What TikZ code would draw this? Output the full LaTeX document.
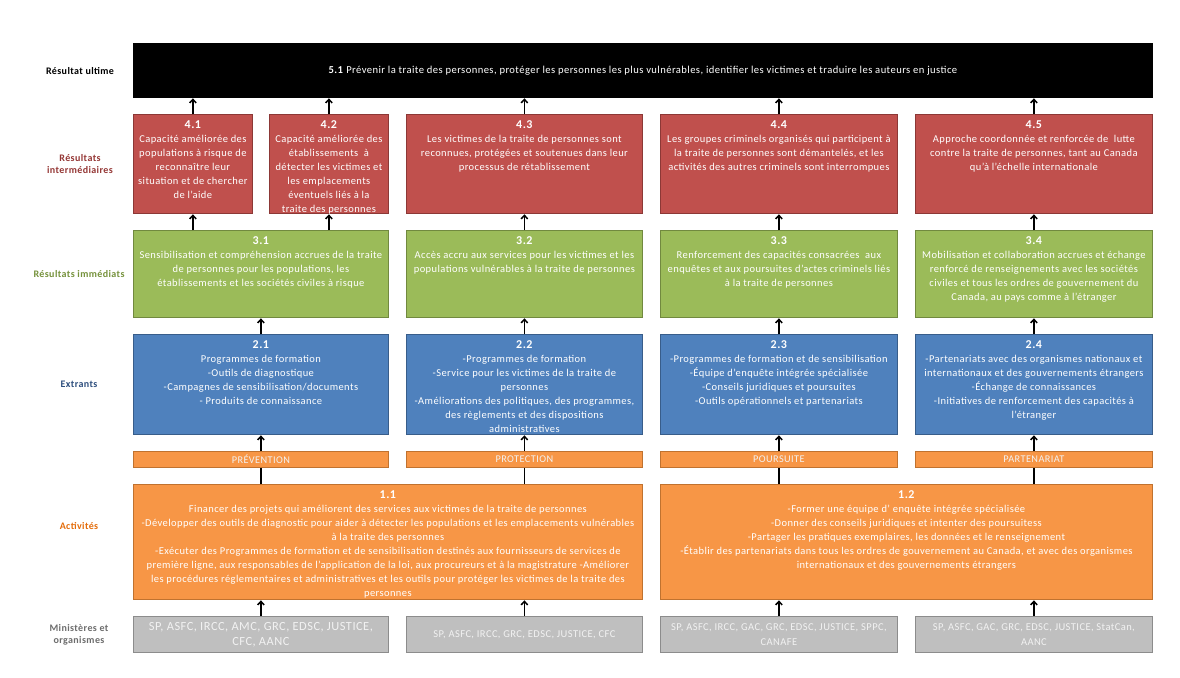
\documentclass[tikz,border=0pt]{standalone}
\usepackage{fontspec}
\setmainfont{Carlito}[LetterSpace=4]
\usetikzlibrary{arrows.meta}
\definecolor{cred}{HTML}{C0504D}
\definecolor{credb}{HTML}{8C3836}
\definecolor{cgreen}{HTML}{9BBB59}
\definecolor{cgreenb}{HTML}{71893F}
\definecolor{cblue}{HTML}{4F81BD}
\definecolor{cblueb}{HTML}{385D8A}
\definecolor{corange}{HTML}{F79646}
\definecolor{coranb}{HTML}{C0722F}
\definecolor{cgray}{HTML}{BFBFBF}
\definecolor{cgrayb}{HTML}{8C8C8C}
\definecolor{lred}{HTML}{953735}
\definecolor{lgreen}{HTML}{76923C}
\definecolor{lblue}{HTML}{2E4F7E}
\definecolor{lorange}{HTML}{E46C0A}
\definecolor{lgray}{HTML}{6D6D6D}
\definecolor{ltext}{HTML}{F2F2F2}
\newcommand\hd[1]{\makebox[\linewidth]{\fontsize{12}{14}\selectfont\bfseries #1}\par}
\newcommand\lne[1]{\makebox[\linewidth]{#1}\par}
\newcommand\bx[7]{\node[#6] (#1) at (#2,#3) {\parbox[t][#5pt][t]{#4pt}{\vspace*{6pt}#7}};}
\tikzset{
  base/.style={inner sep=0pt, anchor=north west, text=white, line width=0.8pt,
    font=\fontsize{10.5}{14}\selectfont},
  redbox/.style={base, fill=cred, draw=credb},
  greenbox/.style={base, fill=cgreen, draw=cgreenb},
  bluebox/.style={base, fill=cblue, draw=cblueb},
  orangebox/.style={base, fill=corange, draw=coranb},
  barbox/.style={base, fill=corange, draw=coranb, text=ltext, minimum height=16pt,
    font=\fontsize{10.3}{12}\selectfont},
  graybox/.style={base, fill=cgray, draw=cgrayb, text=ltext, minimum height=36pt, align=center},
  blackbox/.style={base, fill=black, draw=black},
  lab/.style={font=\fontsize{10}{12.5}\selectfont\bfseries, align=center},
  arr/.style={line width=1.5pt, -{Straight Barb[length=3.5pt,width=6.5pt]}, shorten >=0.5pt},
  lnk/.style={line width=1.5pt},
}
\begin{document}
\begin{tikzpicture}[x=1pt,y=-1pt]
\useasboundingbox[fill=white] (0,0) rectangle (1180,677);

% left labels
\node[lab, text=black] (L5) at (80,71) {Résultat ultime};
\node[lab, text=lred] (L4) at (80,164) {Résultats\\intermédiaires};
\node[lab, text=lgreen] (L3) at (79,274) {Résultats immédiats};
\node[lab, text=lblue] (L2) at (79,384) {Extrants};
\node[lab, text=lorange] (L1) at (79,526) {Activités};
\node[lab, text=lgray] (L0) at (79,635) {Ministères et\\organismes};

% ultimate outcome
\node[blackbox, minimum width=1019pt, minimum height=54pt, font=\fontsize{10.6}{12}\selectfont] (n51) at (133,43)
  {\textbf{5.1} Prévenir la traite des personnes, protéger les personnes les plus vulnérables, identifier les victimes et traduire les auteurs en justice};

% intermediate outcomes
\bx{n41}{133}{114}{119}{99}{redbox}{\hd{4.1}\lne{Capacité améliorée des}\lne{populations à risque de}\lne{reconnaître leur}\lne{situation et de chercher}\lne{de l’aide}}
\bx{n42}{269}{114}{119}{99}{redbox}{\hd{4.2}\lne{Capacité améliorée des}\lne{établissements \ à}\lne{détecter les victimes et}\lne{les emplacements}\lne{éventuels liés à la}\lne{traite des personnes}}
\bx{n43}{406}{114}{236}{99}{redbox}{\hd{4.3}\lne{Les victimes de la traite de personnes sont}\lne{reconnues, protégées et soutenues dans leur}\lne{processus de rétablissement}}
\bx{n44}{660}{114}{237}{99}{redbox}{\hd{4.4}\lne{Les groupes criminels organisés qui participent à}\lne{la traite de personnes sont démantelés, et les}\lne{activités des autres criminels sont interrompues}}
\bx{n45}{915}{114}{237}{99}{redbox}{\hd{4.5}\lne{Approche coordonnée et renforcée de \ lutte}\lne{contre la traite de personnes, tant au Canada}\lne{qu'à l'échelle internationale}}

% immediate outcomes
\bx{n31}{133}{230}{255}{87}{greenbox}{\hd{3.1}\lne{Sensibilisation et compréhension accrues de la traite}\lne{de personnes pour les populations, les}\lne{établissements et les sociétés civiles à risque}}
\bx{n32}{406}{230}{236}{87}{greenbox}{\hd{3.2}\lne{Accès accru aux services pour les victimes et les}\lne{populations vulnérables à la traite de personnes}}
\bx{n33}{660}{230}{237}{87}{greenbox}{\hd{3.3}\lne{Renforcement des capacités consacrées \ aux}\lne{enquêtes et aux poursuites d'actes criminels liés}\lne{à la traite de personnes}}
\bx{n34}{915}{230}{237}{87}{greenbox}{\hd{3.4}\lne{Mobilisation et collaboration accrues et échange}\lne{renforcé de renseignements avec les sociétés}\lne{civiles et tous les ordres de gouvernement du}\lne{Canada, au pays comme à l'étranger}}

% outputs
\bx{n21}{133}{334}{255}{100}{bluebox}{\hd{2.1}\lne{Programmes de formation}\lne{-Outils de diagnostique}\lne{-Campagnes de sensibilisation/documents}\lne{- Produits de connaissance}}
\bx{n22}{406}{334}{236}{100}{bluebox}{\hd{2.2}\lne{-Programmes de formation}\lne{-Service pour les victimes de la traite de}\lne{personnes}\lne{-Améliorations des politiques, des programmes,}\lne{des règlements et des dispositions}\lne{administratives}}
\bx{n23}{660}{334}{237}{100}{bluebox}{\hd{2.3}\lne{-Programmes de formation et de sensibilisation}\lne{-Équipe d’enquête intégrée spécialisée}\lne{-Conseils juridiques et poursuites}\lne{-Outils opérationnels et partenariats}}
\bx{n24}{915}{334}{237}{100}{bluebox}{\hd{2.4}\lne{-Partenariats avec des organismes nationaux et}\lne{internationaux et des gouvernements étrangers}\lne{-Échange de connaissances}\lne{-Initiatives de renforcement des capacités à}\lne{l’étranger}}

% pillars
\node[barbox, minimum width=255pt] (bP) at (133,451) {PRÉVENTION};
\node[barbox, minimum width=236pt] (bR) at (406,451) {PROTECTION};
\node[barbox, minimum width=237pt] (bS) at (660,451) {POURSUITE};
\node[barbox, minimum width=237pt] (bT) at (915,451) {PARTENARIAT};

% activities
\bx{n11}{133}{484}{509}{115}{orangebox}{\hd{1.1}\lne{Financer des projets qui améliorent des services aux victimes de la traite de personnes}\lne{-Développer des outils de diagnostic pour aider à détecter les populations et les emplacements vulnérables}\lne{à la traite des personnes}\lne{-Exécuter des Programmes de formation et de sensibilisation destinés aux fournisseurs de services de}\lne{première ligne, aux responsables de l'application de la loi, aux procureurs et à la magistrature -Améliorer}\lne{les procédures réglementaires et administratives et les outils pour protéger les victimes de la traite des}\lne{personnes}}
\bx{n12}{660}{484}{492}{115}{orangebox}{\hd{1.2}\lne{-Former une équipe d’ enquête intégrée spécialisée}\lne{-Donner des conseils juridiques et intenter des poursuitess}\lne{-Partager les pratiques exemplaires, les données et le renseignement}\lne{-Établir des partenariats dans tous les ordres de gouvernement au Canada, et avec des organismes}\lne{internationaux et des gouvernements étrangers}}

% departments
\node[graybox, minimum width=255pt, font=\fontsize{12.4}{15}\selectfont] (g1) at (133,616) {SP, ASFC, IRCC, AMC, GRC, EDSC, JUSTICE,\\CFC, AANC};
\node[graybox, minimum width=236pt, font=\fontsize{10.5}{14.5}\selectfont] (g2) at (406,616) {SP, ASFC, IRCC, GRC, EDSC, JUSTICE, CFC};
\node[graybox, minimum width=237pt, font=\fontsize{10.5}{14.5}\selectfont] (g3) at (660,616) {SP, ASFC, IRCC, GAC, GRC, EDSC, JUSTICE, SPPC,\\CANAFE};
\node[graybox, minimum width=237pt, font=\fontsize{10.5}{14.5}\selectfont] (g4) at (915,616) {SP, ASFC, GAC, GRC, EDSC, JUSTICE, StatCan,\\AANC};

% connectors: intermediate -> ultimate
\foreach \n in {n41,n42,n43,n44,n45}
  \draw[arr] (\n.north) -- (\n.north |- n51.south);
% immediate -> intermediate
\draw[arr] (n31.north -| n41.south) -- (n41.south);
\draw[arr] (n31.north -| n42.south) -- (n42.south);
\draw[arr] (n32.north) -- (n43.south);
\draw[arr] (n33.north) -- (n44.south);
\draw[arr] (n34.north) -- (n45.south);
% outputs -> immediate
\draw[arr] (n21.north) -- (n31.south);
\draw[arr] (n22.north) -- (n32.south);
\draw[arr] (n23.north) -- (n33.south);
\draw[arr] (n24.north) -- (n34.south);
% pillars -> outputs
\draw[arr] (bP.north) -- (n21.south);
\draw[arr] (bR.north) -- (n22.south);
\draw[arr] (bS.north) -- (n23.south);
\draw[arr] (bT.north) -- (n24.south);
% activities -- pillars
\draw[lnk] (n11.north -| bP.south) -- (bP.south);
\draw[lnk] (n11.north -| bR.south) -- (bR.south);
\draw[lnk] (n12.north -| bS.south) -- (bS.south);
\draw[lnk] (n12.north -| bT.south) -- (bT.south);
% departments -> activities
\draw[arr] (g1.north) -- (g1.north |- n11.south);
\draw[arr] (g2.north) -- (g2.north |- n11.south);
\draw[arr] (g3.north) -- (g3.north |- n12.south);
\draw[arr] (g4.north) -- (g4.north |- n12.south);
\end{tikzpicture}
\end{document}
